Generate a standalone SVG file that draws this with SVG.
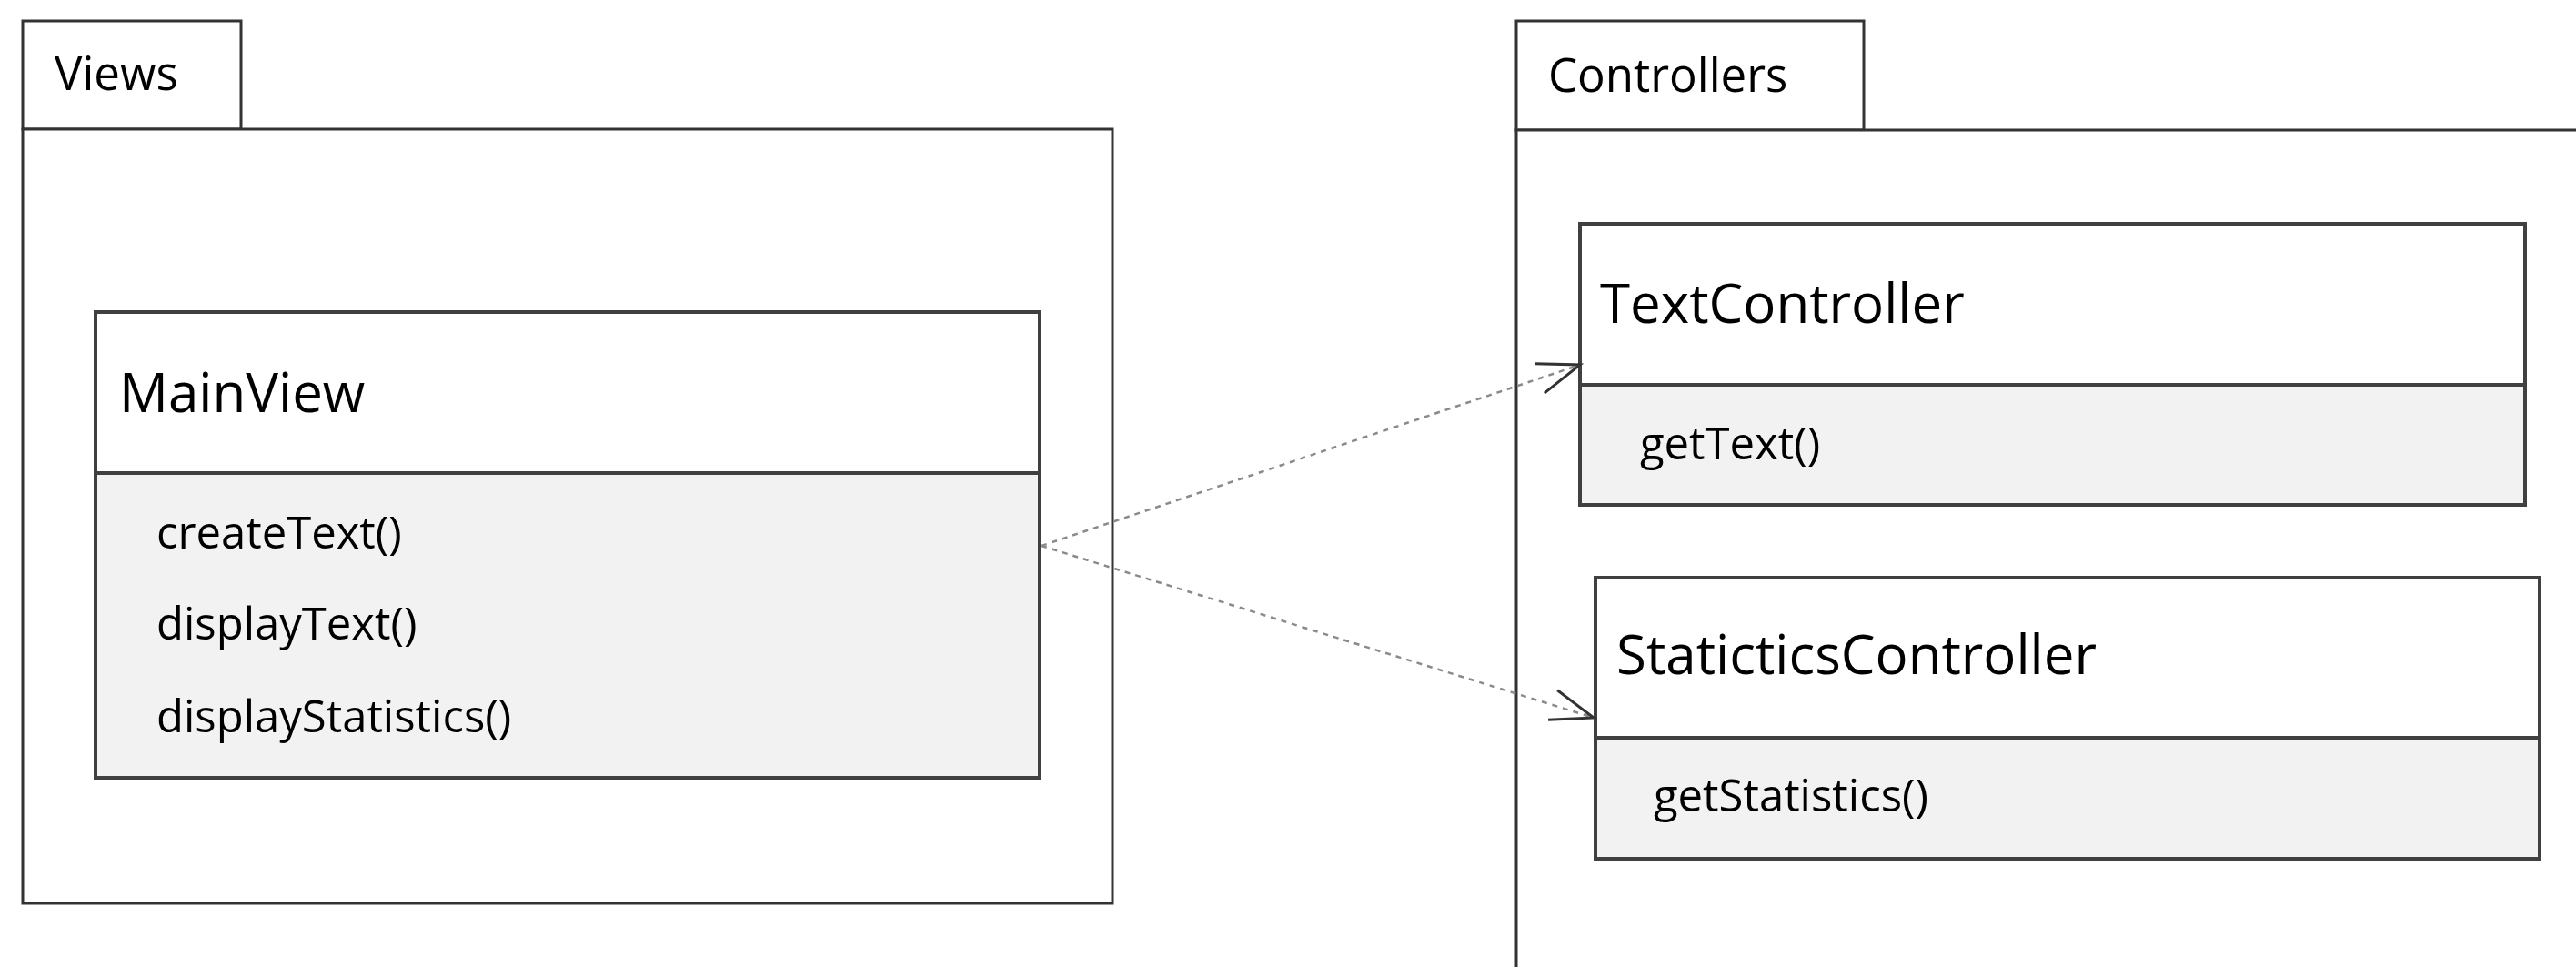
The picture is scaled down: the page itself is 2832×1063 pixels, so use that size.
<svg xmlns="http://www.w3.org/2000/svg" width="2832" height="1063" viewBox="0 0 2832 1063">
<style>
.pkg{fill:#fff;stroke:#333;stroke-width:3}
.hdr{fill:#fff;stroke:#404040;stroke-width:4}
.mem{fill:#f2f2f2;stroke:#404040;stroke-width:4}
.t{font-family:"Open Sans","Liberation Sans",sans-serif;fill:#000}
.pl{font-size:51px}
.cn{font-size:60px}
.m{font-size:49px}
.dep{fill:none;stroke:#8a8a8a;stroke-width:2.5;stroke-dasharray:6 6;marker-end:url(#open)}
</style>
<defs>
<marker id="open" markerUnits="userSpaceOnUse" markerWidth="60" markerHeight="40" viewBox="-50 -20 54 40" refX="0" refY="0" orient="auto">
<path d="M-47,-17 L0,0 L-47,17" fill="none" stroke="#333" stroke-width="3" stroke-dasharray="none"/>
</marker>
</defs>
<rect width="2832" height="1063" fill="#fff"/>
<g id="pkg-views">
<rect class="pkg" x="25" y="23" width="240" height="119"/>
<rect class="pkg" x="25" y="142" width="1198" height="851"/>
<text class="t pl" x="60" y="99">Views</text>
</g>
<g id="pkg-controllers">
<rect class="pkg" x="1667" y="23" width="382" height="120"/>
<path class="pkg" d="M1667,1070 V143 H2840" fill="none"/>
<text class="t pl" x="1702" y="101">Controllers</text>
</g>
<g id="MainView">
<rect class="hdr" x="105" y="343" width="1038" height="177"/>
<rect class="mem" x="105" y="520" width="1038" height="335"/>
<text class="t cn" x="131" y="453">MainView</text>
<text class="t m" x="172" y="603">createText()</text>
<text class="t m" x="172" y="703">displayText()</text>
<text class="t m" x="172" y="805">displayStatistics()</text>
</g>
<g id="TextController">
<rect class="hdr" x="1737" y="246" width="1039" height="177"/>
<rect class="mem" x="1737" y="423" width="1039" height="132"/>
<text class="t cn" x="1759" y="355">TextController</text>
<text class="t m" x="1803" y="505">getText()</text>
</g>
<g id="StaticticsController">
<rect class="hdr" x="1754" y="635" width="1038" height="176"/>
<rect class="mem" x="1754" y="811" width="1038" height="133"/>
<text class="t cn" x="1777" y="741">StaticticsController</text>
<text class="t m" x="1818" y="892">getStatistics()</text>
</g>
<g id="connectors">
<line class="dep" x1="1145" y1="600" x2="1737" y2="401"/>
<line class="dep" x1="1145" y1="600" x2="1752" y2="789"/>
</g>
</svg>
